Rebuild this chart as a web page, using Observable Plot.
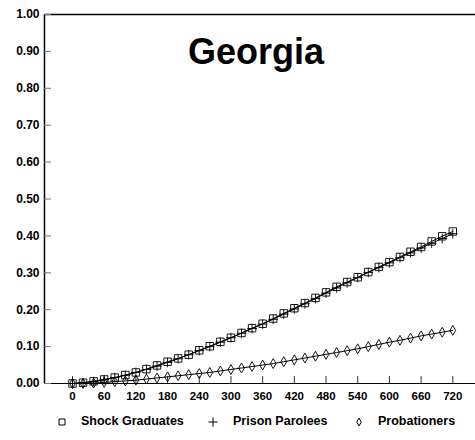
<!DOCTYPE html>
<html>
<head>
<meta charset="utf-8">
<script src="https://cdn.jsdelivr.net/npm/d3@7"></script>
<script src="https://cdn.jsdelivr.net/npm/@observablehq/plot@0.6"></script>
<style>
  html, body { margin: 0; padding: 0; background: #fff; }
  body { width: 475px; height: 440px; overflow: hidden; font-family: "Liberation Sans", Arial, sans-serif; }
  #chart { position: relative; width: 475px; height: 400px; }
  #legend { position: relative; width: 475px; height: 40px; font-weight: bold; font-size: 12.5px; color: #000; }
  #legend .item { position: absolute; top: 14px; line-height: 14px; white-space: nowrap; }
  #legend svg { position: absolute; top: 14px; overflow: visible; }
</style>
</head>
<body>
<div id="chart"></div>
<div id="legend"></div>
<script>
const title = "Georgia";
const seriesNames = ["Shock Graduates", "Prison Parolees", "Probationers"];
const days = [0,20,40,60,80,100,120,140,160,180,200,220,240,260,280,300,320,340,360,380,400,420,440,460,480,500,520,540,560,580,600,620,640,660,680,700,720];
const shockGraduates = [0.000,0.002,0.006,0.011,0.016,0.023,0.030,0.039,0.049,0.059,0.068,0.078,0.090,0.101,0.113,0.124,0.137,0.150,0.162,0.176,0.190,0.204,0.218,0.232,0.247,0.262,0.275,0.288,0.302,0.316,0.329,0.343,0.357,0.370,0.385,0.399,0.412];
const prisonParolees = [0.000,0.002,0.005,0.010,0.016,0.022,0.030,0.038,0.047,0.057,0.067,0.078,0.089,0.100,0.112,0.124,0.136,0.149,0.161,0.174,0.188,0.202,0.216,0.230,0.245,0.259,0.273,0.287,0.301,0.314,0.327,0.341,0.354,0.367,0.380,0.393,0.406];
const probationers = [0.000,0.000,0.001,0.003,0.005,0.007,0.009,0.012,0.015,0.018,0.021,0.024,0.027,0.030,0.034,0.038,0.042,0.046,0.050,0.054,0.059,0.064,0.069,0.074,0.079,0.084,0.089,0.094,0.100,0.106,0.112,0.117,0.123,0.129,0.134,0.139,0.144];
const xTicks = [0,60,120,180,240,300,360,420,480,540,600,660,720];
const yTicks = [0,0.1,0.2,0.3,0.4,0.5,0.6,0.7,0.8,0.9,1.0];
const xDomain = [-53, 763];
const yDomain = [0, 1];

const symbols = ["square", "plus", "diamond"];
const valuesBySeries = [shockGraduates, prisonParolees, probationers];
const data = [];
seriesNames.forEach((name, i) => {
  days.forEach((d, j) => data.push({series: name, day: d, value: valuesBySeries[i][j]}));
});

const font = '"Liberation Sans", Arial, sans-serif';

const marks = [
  Plot.ruleY([yDomain[0]], {stroke: "#000", strokeWidth: 1.2}),
  Plot.ruleY([yDomain[1]], {stroke: "#000", strokeWidth: 1.5}),
  Plot.ruleX([xDomain[0]], {stroke: "#000", strokeWidth: 1.5}),
  Plot.axisY({ticks: yTicks, tickFormat: d3.format(".2f"), label: null, tickSize: -7, tickPadding: 12, stroke: "#777", fontWeight: "bold", fontSize: 12, fill: "#000"}),
  Plot.axisX({ticks: xTicks, tickFormat: d => String(d), label: null, tickSize: -7, tickPadding: 15, stroke: "#333", fontWeight: "bold", fontSize: 11.5, fill: "#000"}),
  Plot.text([title], {frameAnchor: "top", dx: -4, dy: 49, lineAnchor: "bottom", fontSize: 36, fontWeight: "bold", fill: "#000"})
];
seriesNames.forEach((name, i) => {
  const sub = data.filter(d => d.series === name);
  marks.push(Plot.line(sub, {x: "day", y: "value", stroke: "#000", strokeWidth: 1}));
});
seriesNames.forEach((name, i) => {
  const sub = data.filter(d => d.series === name);
  const r = symbols[i] === "square" ? 4.2 : symbols[i] === "plus" ? 3.2 : 3.0;
  marks.push(Plot.dot(sub, {x: "day", y: "value", symbol: () => symbols[i], r, stroke: "#000", fill: "none", strokeWidth: 0.9}));
});

const chart = Plot.plot({
  width: 475,
  height: 400,
  marginTop: 14,
  marginBottom: 17,
  marginLeft: 44,
  marginRight: 0,
  style: {fontFamily: font, background: "#fff", overflow: "visible"},
  x: {domain: xDomain, axis: null, label: null},
  y: {domain: yDomain, axis: null, label: null},
  symbol: {domain: symbols, range: symbols},
  marks
});
document.getElementById("chart").appendChild(chart);

// Legend
const legend = d3.select("#legend");
const legendPos = [{sx: 62, tx: 81}, {sx: 213, tx: 233}, {sx: 359, tx: 378}];
const symbolTypes = [d3.symbolSquare, d3.symbolPlus, d3.symbolDiamond];
const symbolSizes = [36, 30, 18];
seriesNames.forEach((name, i) => {
  const svg = legend.append("svg").attr("width", 1).attr("height", 1)
    .style("left", legendPos[i].sx + "px").style("top", "22px");
  svg.append("path").attr("d", d3.symbol(symbolTypes[i], symbolSizes[i])())
    .attr("fill", "none").attr("stroke", "#000").attr("stroke-width", 1);
  legend.append("div").attr("class", "item").style("left", legendPos[i].tx + "px").text(name);
});
</script>
</body>
</html>
